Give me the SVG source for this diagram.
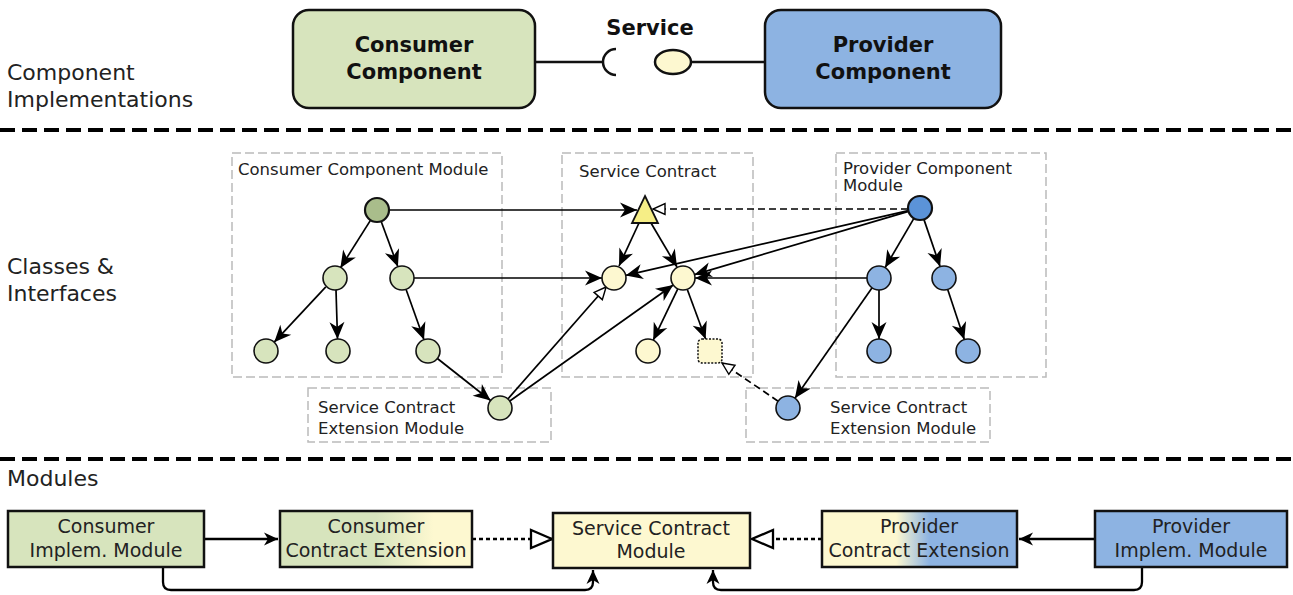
<svg xmlns="http://www.w3.org/2000/svg" width="1293" height="595" viewBox="0 0 1293 595">
<style>
.lbl{font-family:"DejaVu Sans",sans-serif;font-size:22px;fill:#222}
.sm{font-family:"DejaVu Sans",sans-serif;font-size:16.5px;fill:#222}
.bt{font-family:"DejaVu Sans",sans-serif;font-size:21px;font-weight:bold;fill:#111;text-anchor:middle}
.mt{font-family:"DejaVu Sans",sans-serif;font-size:19px;fill:#222;text-anchor:middle}
.sep{stroke:#000;stroke-width:4;stroke-dasharray:15 7;fill:none}
.grp{fill:none;stroke:#bbb;stroke-width:1.5;stroke-dasharray:9 4}
.e{stroke:#000;stroke-width:1.7;fill:none;marker-end:url(#ar)}
.eh{stroke:#000;stroke-width:1.7;fill:none;marker-end:url(#hol)}
.ed{stroke:#000;stroke-width:1.7;fill:none;stroke-dasharray:7 4;marker-end:url(#hol)}
.cn{fill:#d7e4bd;stroke:#111;stroke-width:1.6}
.pn{fill:#8db3e2;stroke:#111;stroke-width:1.6}
.sn{fill:#fdf8d0;stroke:#111;stroke-width:1.6}
.mb{stroke:#111;stroke-width:2.5}
.bc{stroke:#000;stroke-width:2.3;fill:none}
</style>
<defs>
<marker id="ar" markerUnits="userSpaceOnUse" viewBox="-18 -8 19 16" refX="0" refY="0" markerWidth="19" markerHeight="16" orient="auto">
<path d="M0,0 L-17,-7.5 L-12,0 L-17,7.5 Z" fill="#000"/>
</marker>
<marker id="hol" markerUnits="userSpaceOnUse" viewBox="-14 -8 16 16" refX="0" refY="0" markerWidth="16" markerHeight="16" orient="auto">
<path d="M0,0 L-12,-5.5 L-12,5.5 Z" fill="#fff" stroke="#000" stroke-width="1.4"/>
</marker>
<marker id="arb" markerUnits="userSpaceOnUse" viewBox="-15 -8 16 16" refX="0" refY="0" markerWidth="16" markerHeight="16" orient="auto">
<path d="M0,0 L-14,-6.5 L-10,0 L-14,6.5 Z" fill="#000"/>
</marker>
<marker id="holb" markerUnits="userSpaceOnUse" viewBox="-24 -12 26 24" refX="0" refY="0" markerWidth="26" markerHeight="24" orient="auto">
<path d="M0,0 L-21,-9 L-21,9 Z" fill="#fff" stroke="#000" stroke-width="2.3"/>
</marker>
<linearGradient id="gc" x1="0" y1="0" x2="1" y2="0">
<stop offset="0.5" stop-color="#d7e4bd"/>
<stop offset="0.8" stop-color="#fdf8d0"/>
</linearGradient>
<linearGradient id="gp" x1="0" y1="0" x2="1" y2="0">
<stop offset="0.38" stop-color="#fdf8d0"/>
<stop offset="0.55" stop-color="#8db3e2"/>
</linearGradient>
</defs>

<!-- layer labels -->
<g id="layer-labels">
<text class="lbl" x="7" y="80">Component</text>
<text class="lbl" x="7" y="107">Implementations</text>
<text class="lbl" x="7" y="274">Classes &amp;</text>
<text class="lbl" x="7" y="301">Interfaces</text>
<text class="lbl" x="7" y="486">Modules</text>
</g>
<g id="separators">
<line class="sep" x1="0" y1="130" x2="1293" y2="130"/>
<line class="sep" x1="0" y1="459" x2="1293" y2="459"/>
</g>

<!-- top components -->
<g id="consumer-component">
<rect x="293" y="10" width="242" height="98" rx="16" fill="#d7e4bd" stroke="#111" stroke-width="2.5"/>
<text class="bt" x="414" y="52">Consumer</text>
<text class="bt" x="414" y="79">Component</text>
</g>
<g id="provider-component">
<rect x="765" y="10" width="236" height="98" rx="16" fill="#8db3e2" stroke="#111" stroke-width="2.5"/>
<text class="bt" x="883" y="52">Provider</text>
<text class="bt" x="883" y="79">Component</text>
</g>
<g id="service-interface">
<text class="bt" x="650" y="35" font-size="20">Service</text>
<line x1="535" y1="62" x2="602" y2="62" stroke="#111" stroke-width="2.5"/>
<path d="M616,49 A13,13 0 0 0 616,75" fill="none" stroke="#111" stroke-width="2.5"/>
<ellipse cx="673" cy="62" rx="18" ry="12" fill="#fdf8d0" stroke="#111" stroke-width="2.5"/>
<line x1="691" y1="62" x2="765" y2="62" stroke="#111" stroke-width="2.5"/>
</g>

<!-- module groups (dashed) -->
<g id="group-consumer-module">
<rect class="grp" x="232" y="153" width="270" height="224"/>
<text class="sm" x="238" y="175">Consumer Component Module</text>
</g>
<g id="group-service-contract">
<rect class="grp" x="562" y="153" width="191" height="224"/>
<text class="sm" x="579" y="177">Service Contract</text>
</g>
<g id="group-provider-module">
<rect class="grp" x="836" y="153" width="210" height="224"/>
<text class="sm" x="843" y="174">Provider Component</text>
<text class="sm" x="843" y="191">Module</text>
</g>
<g id="group-consumer-ext">
<rect class="grp" x="308" y="388" width="243" height="54"/>
<text class="sm" x="318" y="413">Service Contract</text>
<text class="sm" x="318" y="434">Extension Module</text>
</g>
<g id="group-provider-ext">
<rect class="grp" x="746" y="388" width="244" height="54"/>
<text class="sm" x="830" y="413">Service Contract</text>
<text class="sm" x="830" y="434">Extension Module</text>
</g>

<!-- class connectors -->
<g id="class-connectors">
<line class="e" x1="389" y1="210" x2="637" y2="210"/>
<line class="ed" x1="908" y1="209" x2="653" y2="209"/>
<line class="e" x1="639" y1="223" x2="619" y2="266"/>
<line class="e" x1="651" y1="223" x2="677" y2="267"/>
<line class="e" x1="908.3" y1="210.6" x2="625.7" y2="275.4"/>
<line class="e" x1="908.5" y1="211.4" x2="694.5" y2="274.6"/>
<line class="e" x1="414" y1="278" x2="602" y2="278"/>
<line class="e" x1="867" y1="278" x2="695" y2="278"/>
<line class="eh" x1="507.9" y1="399" x2="606.1" y2="287"/>
<line class="e" x1="509.8" y1="401" x2="673.2" y2="285"/>
<line class="e" x1="677.8" y1="288.8" x2="653.2" y2="340.2"/>
<line class="e" x1="687.2" y1="289.3" x2="705.6" y2="339"/>
<line class="ed" x1="778.1" y1="401.2" x2="722" y2="363"/>
<line class="e" x1="370.6" y1="220.1" x2="340.4" y2="267.9"/>
<line class="e" x1="381.1" y1="221.3" x2="397.9" y2="266.7"/>
<line class="e" x1="325.8" y1="286.8" x2="274.2" y2="342.2"/>
<line class="e" x1="336" y1="290" x2="337.5" y2="339"/>
<line class="e" x1="406" y1="289.3" x2="424" y2="339.7"/>
<line class="e" x1="437.4" y1="358.5" x2="490.6" y2="400.5"/>
<line class="e" x1="913.9" y1="218.4" x2="885.1" y2="267.6"/>
<line class="e" x1="923.9" y1="219.4" x2="940.1" y2="266.6"/>
<line class="e" x1="879" y1="290" x2="879" y2="339"/>
<line class="e" x1="947.7" y1="289.4" x2="964.3" y2="339.6"/>
<line class="e" x1="872.1" y1="287.8" x2="794.9" y2="398.2"/>
</g>

<!-- class nodes -->
<g id="c-root"><circle cx="377" cy="210" r="12" fill="#a9bd8b" stroke="#111" stroke-width="2.2"/></g>
<g id="c-a"><circle class="cn" cx="335" cy="278" r="12"/></g>
<g id="c-b"><circle class="cn" cx="402" cy="278" r="12"/></g>
<g id="c-a1"><circle class="cn" cx="266" cy="351" r="12"/></g>
<g id="c-a2"><circle class="cn" cx="338" cy="351" r="12"/></g>
<g id="c-b1"><circle class="cn" cx="428" cy="351" r="12"/></g>
<g id="c-ext"><circle class="cn" cx="500" cy="408" r="12"/></g>

<g id="s-root"><path d="M645,196 L658,223 L632,223 Z" fill="#f6ee86" stroke="#111" stroke-width="1.8" stroke-linejoin="miter"/></g>
<g id="s-a"><circle class="sn" cx="614" cy="278" r="12"/></g>
<g id="s-b"><circle class="sn" cx="683" cy="278" r="12"/></g>
<g id="s-b1"><circle class="sn" cx="648" cy="351" r="12"/></g>
<g id="s-b2"><rect x="698" y="339" width="24" height="24" rx="4" fill="#fdf8d0" stroke="#111" stroke-width="1.5" stroke-dasharray="2 1.5"/></g>

<g id="p-root"><circle cx="920" cy="208" r="12" fill="#5b93d8" stroke="#111" stroke-width="2.2"/></g>
<g id="p-a"><circle class="pn" cx="879" cy="278" r="12"/></g>
<g id="p-b"><circle class="pn" cx="944" cy="278" r="12"/></g>
<g id="p-a1"><circle class="pn" cx="879" cy="351" r="12"/></g>
<g id="p-b1"><circle class="pn" cx="968" cy="351" r="12"/></g>
<g id="p-ext"><circle class="pn" cx="788" cy="408" r="12"/></g>

<!-- module connectors -->
<g id="module-connectors">
<line class="bc" x1="204" y1="539" x2="278" y2="539" marker-end="url(#arb)"/>
<line class="bc" x1="472" y1="539" x2="552" y2="539" stroke-dasharray="4 3" marker-end="url(#holb)"/>
<line class="bc" x1="822" y1="539" x2="752" y2="539" stroke-dasharray="4 3" marker-end="url(#holb)"/>
<line class="bc" x1="1095" y1="539" x2="1019" y2="539" marker-end="url(#arb)"/>
<path class="bc" d="M163,567 V582 Q163,590 171,590 H585 Q593,590 593,582 V570" marker-end="url(#arb)"/>
<path class="bc" d="M1142,567 V582 Q1142,590 1134,590 H721 Q713,590 713,582 V570" marker-end="url(#arb)"/>
</g>

<!-- modules -->
<g id="m-consumer-impl">
<rect class="mb" x="8" y="511" width="196" height="56" fill="#d7e4bd"/>
<text class="mt" x="106" y="533">Consumer</text>
<text class="mt" x="106" y="557">Implem. Module</text>
</g>
<g id="m-consumer-ext">
<rect class="mb" x="280" y="511" width="192" height="56" fill="url(#gc)"/>
<text class="mt" x="376" y="533">Consumer</text>
<text class="mt" x="376" y="557">Contract Extension</text>
</g>
<g id="m-service-contract">
<rect class="mb" x="553" y="513" width="197" height="55" fill="#fdf8d0"/>
<text class="mt" x="651" y="535">Service Contract</text>
<text class="mt" x="651" y="558">Module</text>
</g>
<g id="m-provider-ext">
<rect class="mb" x="822" y="511" width="195" height="56" fill="url(#gp)"/>
<text class="mt" x="919" y="533">Provider</text>
<text class="mt" x="919" y="557">Contract Extension</text>
</g>
<g id="m-provider-impl">
<rect class="mb" x="1095" y="511" width="192" height="56" fill="#8db3e2"/>
<text class="mt" x="1191" y="533">Provider</text>
<text class="mt" x="1191" y="557">Implem. Module</text>
</g>
</svg>
